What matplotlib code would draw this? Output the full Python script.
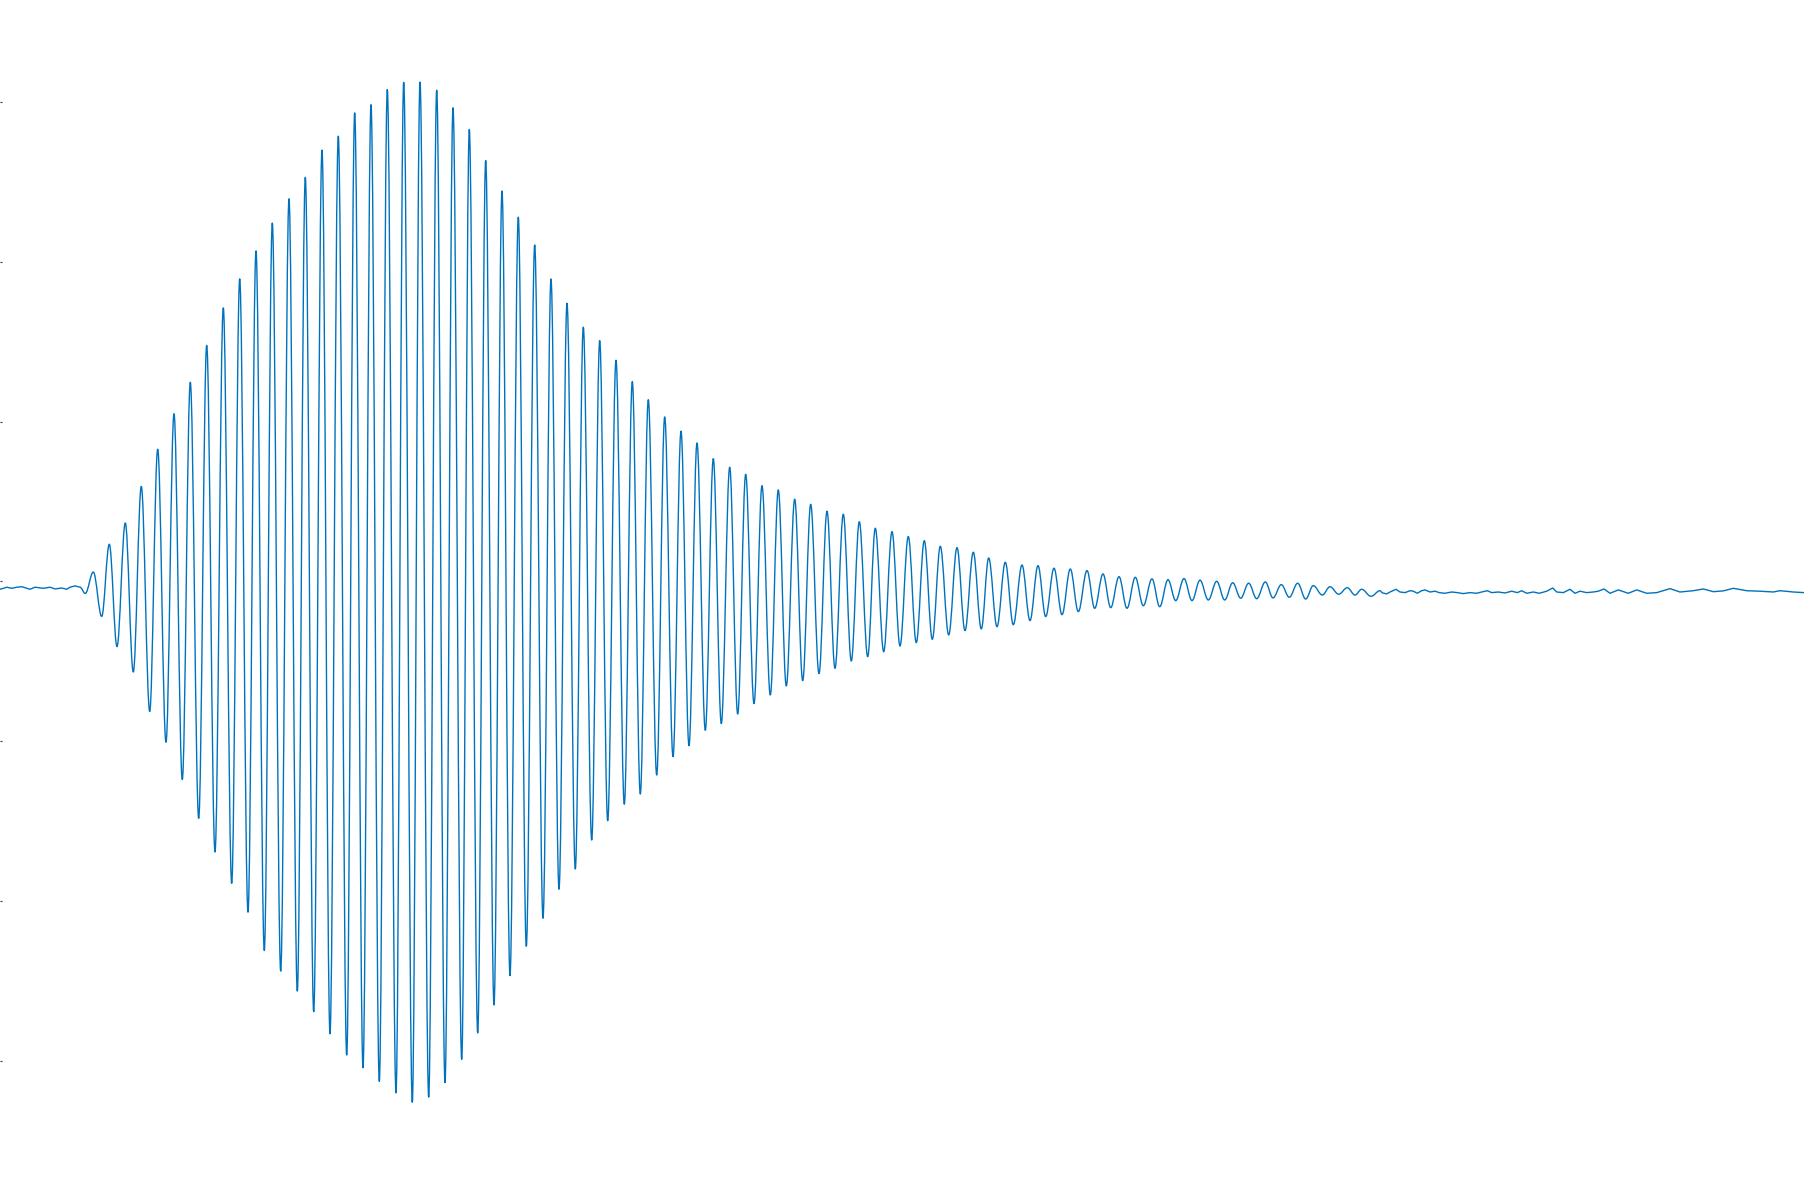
import numpy as np
import matplotlib
matplotlib.use("Agg")
import matplotlib.pyplot as plt
from matplotlib.path import Path
from matplotlib.patches import PathPatch

#### Data ####
# baseline before the burst
noise_left_t = [0, 3.3, 6.7, 11.7, 16.7, 21.7, 25, 30, 35, 43.3, 50, 55, 61.7, 66.7, 70, 75, 80]
noise_left_v = [-0.049, -0.043, -0.036, -0.043, -0.036, -0.033, -0.039, -0.049, -0.036,
                -0.043, -0.036, -0.047, -0.041, -0.049, -0.036, -0.028, -0.036]

# local maxima of the oscillation
peak_t = [93.3, 109.3, 125.3, 141.3, 157.7, 174, 190.3, 206.7, 223.3, 239.7, 256, 272.3,
          289, 305.3, 322, 338.3, 354.7, 371, 387.3, 403.7, 420, 436.7, 453, 469.3,
          485.7, 502, 518.3, 534.7, 551, 567, 583.3, 599.7, 616, 632.3, 648.3, 664.7,
          681, 697, 713.3, 729.7, 745.7, 762, 778.3, 794.7, 810.7, 827, 843.3, 859.3,
          875.3, 892, 908.3, 924.3, 940.3, 957, 973.3, 988.7, 1005.3, 1022, 1038, 1054,
          1070.3, 1087, 1103, 1119, 1135.3, 1152, 1168, 1184, 1200, 1216.7, 1232.7,
          1248.7, 1265.3, 1281.3, 1297.7, 1313.3, 1330, 1347.3, 1361.7, 1380]
peak_v = [0.059, 0.233, 0.366, 0.595, 0.828, 1.050, 1.247, 1.478, 1.713, 1.895, 2.070, 2.244,
          2.396, 2.530, 2.701, 2.788, 2.934, 2.985, 3.080, 3.125, 3.127, 3.076, 2.966, 2.830,
          2.635, 2.445, 2.281, 2.107, 1.894, 1.742, 1.592, 1.508, 1.385, 1.251, 1.138, 1.030,
          0.941, 0.867, 0.769, 0.715, 0.671, 0.600, 0.573, 0.515, 0.483, 0.440, 0.421, 0.374,
          0.333, 0.312, 0.281, 0.255, 0.220, 0.212, 0.183, 0.147, 0.120, 0.103, 0.099, 0.083,
          0.078, 0.068, 0.047, 0.030, 0.026, 0.016, 0.011, 0.018, 0.008, 0.001, -0.008,
          -0.011, -0.003, -0.020, -0.011, -0.026, -0.033, -0.039, -0.049, -0.058]

# local minima of the oscillation
trough_t = [85.3, 101.7, 117, 133.3, 149.7, 166, 182.3, 198.7, 215, 231.7, 248, 264.3,
            280.7, 297.3, 313.7, 330, 346.7, 363, 379.3, 396, 412.3, 428.7, 445, 461.7,
            477.7, 494, 510, 526.3, 543, 559, 575.3, 591.7, 607.7, 624.3, 640.3, 656.7,
            673, 689, 705.3, 721.3, 737.7, 754, 770.3, 786.3, 802.7, 819, 835, 851.3,
            867.7, 883.7, 900, 916.3, 932.3, 948.7, 965, 981.3, 997, 1013.3, 1030, 1045.7,
            1062, 1078.3, 1094.7, 1110.7, 1127, 1143.3, 1159.7, 1175.7, 1192, 1208.3,
            1224.7, 1240.7, 1256.7, 1273, 1289.3, 1305.7, 1322.3, 1338.7, 1355, 1371]
trough_v = [-0.075, -0.219, -0.408, -0.567, -0.814, -1.007, -1.240, -1.483, -1.694, -1.890,
            -2.071, -2.311, -2.440, -2.565, -2.694, -2.832, -2.965, -3.045, -3.130, -3.202,
            -3.261, -3.229, -3.138, -2.992, -2.827, -2.652, -2.468, -2.284, -2.109, -1.927,
            -1.800, -1.619, -1.498, -1.395, -1.331, -1.212, -1.097, -1.028, -0.932, -0.890,
            -0.830, -0.765, -0.711, -0.654, -0.621, -0.577, -0.544, -0.498, -0.471, -0.440,
            -0.404, -0.383, -0.362, -0.335, -0.308, -0.297, -0.283, -0.271, -0.245, -0.220,
            -0.208, -0.189, -0.168, -0.164, -0.168, -0.152, -0.158, -0.120, -0.120, -0.116,
            -0.116, -0.105, -0.108, -0.103, -0.099, -0.110, -0.085, -0.080, -0.085, -0.093]

# baseline after the burst
noise_right_t = [1382.7, 1386.7, 1390, 1396, 1400, 1405, 1410, 1413.3, 1417.3, 1421.7, 1425,
                 1430, 1435, 1439.3, 1445, 1451.7, 1457.3, 1463.3, 1470, 1476.7, 1481.7,
                 1487.3, 1491.7, 1498.3, 1505, 1511.7, 1517.3, 1521.7, 1526.7, 1533.3,
                 1539.3, 1546.7, 1552.7, 1556.7, 1563.3, 1570, 1575, 1580, 1586.7, 1593.3,
                 1598.3, 1604, 1610, 1618.3, 1628.3, 1636.7, 1646.7, 1656.7, 1670, 1680,
                 1693.3, 1703.3, 1713.3, 1723.3, 1733.3, 1746.7, 1760, 1773.3, 1780, 1793.3, 1804]
noise_right_v = [-0.072, -0.078, -0.066, -0.049, -0.066, -0.070, -0.058, -0.061, -0.074, -0.058,
                 -0.053, -0.066, -0.061, -0.070, -0.074, -0.066, -0.070, -0.076, -0.070, -0.074,
                 -0.066, -0.058, -0.070, -0.066, -0.072, -0.061, -0.070, -0.058, -0.074, -0.066,
                 -0.074, -0.061, -0.041, -0.066, -0.070, -0.049, -0.074, -0.061, -0.070, -0.066,
                 -0.061, -0.047, -0.074, -0.053, -0.074, -0.053, -0.074, -0.070, -0.045, -0.066,
                 -0.058, -0.047, -0.064, -0.059, -0.043, -0.058, -0.061, -0.066, -0.058, -0.066, -0.070]

y_ticks = [-3, -2, -1, 0, 1, 2, 3]

#### Build the trace ####
t = np.concatenate([noise_left_t, peak_t, trough_t, noise_right_t])
v = np.concatenate([noise_left_v, peak_v, trough_v, noise_right_v])
is_noise = np.concatenate([np.ones(len(noise_left_t), bool), np.zeros(len(peak_t), bool),
                           np.zeros(len(trough_t), bool), np.ones(len(noise_right_t), bool)])
order = np.argsort(t)
t, v, is_noise = t[order], v[order], is_noise[order]

# smooth cubic segments between successive extrema (flat tangent at each extremum),
# plain straight segments along the noisy baseline
k = 0.364
verts = [(t[0], v[0])]
codes = [Path.MOVETO]
for i in range(len(t) - 1):
    if is_noise[i] and is_noise[i+1]:
        verts.append((t[i+1], v[i+1]))
        codes.append(Path.LINETO)
    else:
        dt = t[i+1] - t[i]
        verts += [(t[i] + k*dt, v[i]), (t[i+1] - k*dt, v[i+1]), (t[i+1], v[i+1])]
        codes += [Path.CURVE4] * 3

#### Figure ####
fig = plt.figure(figsize=(18.04, 11.99), dpi=100)
ax = fig.add_axes([0, 0, 1, 1])
ax.add_patch(PathPatch(Path(verts, codes), fill=False, edgecolor='#0072BD',
                       linewidth=1.0, joinstyle='round', capstyle='round'))
ax.set_xlim(0, 1804)
ax.set_ylim(-3.867, 3.641)
ax.set_yticks(y_ticks)
ax.set_xticks([])
ax.tick_params(axis='y', direction='in', length=1.6, width=0.8, colors='#333333',
               labelleft=False)
for s in ax.spines.values():
    s.set_visible(False)

fig.savefig('out.png', dpi=100)
